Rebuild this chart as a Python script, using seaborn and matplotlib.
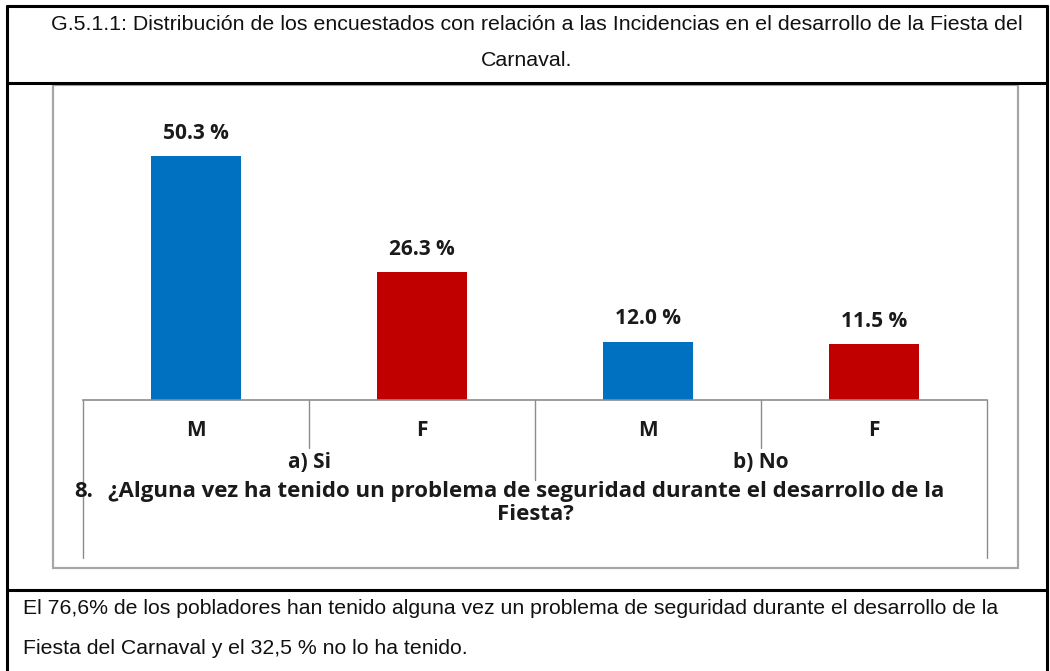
import numpy as np
import pandas as pd
import matplotlib
matplotlib.use("Agg")
import matplotlib.pyplot as plt
import matplotlib.transforms as mtransforms
from matplotlib.lines import Line2D
from matplotlib.patches import Rectangle
import seaborn as sns

# ---------------- data ----------------
groups = ["a) Si", "a) Si", "b) No", "b) No"]
sexes = ["M", "F", "M", "F"]
values = [50.3, 26.3, 12.0, 11.5]
bar_colors = ["#0070C0", "#C00000", "#0070C0", "#C00000"]

title_lines = ["G.5.1.1: Distribución de los encuestados con relación a las Incidencias en el desarrollo de la Fiesta del",
               "Carnaval."]
question_num = "8."
question_lines = ["¿Alguna vez ha tenido un problema de seguridad durante el desarrollo de la",
                  "Fiesta?"]
summary_lines = ["El 76,6% de los pobladores han tenido alguna vez un problema de seguridad durante el desarrollo de la",
                 "Fiesta del Carnaval y el 32,5 % no lo ha tenido."]

# ---------------- figure ----------------
W, H = 1050, 671
sns.set_theme(style="white")
doc_font = ["Liberation Sans", "DejaVu Sans"]
plt.rcParams['font.family'] = ['Liberation Sans', 'DejaVu Sans']
fig = plt.figure(figsize=(W / 100, H / 100), dpi=100)
fig.patch.set_facecolor("white")


def fx(px):
    return px / W


def fy(py):
    return 1 - py / H


BASE_Y = 400
AX_L, AX_R = 83, 987
PX_PER_UNIT = 4.85
YMAX = 60
ax = fig.add_axes([fx(AX_L), fy(BASE_Y), fx(AX_R) - fx(AX_L), YMAX * PX_PER_UNIT / H])

keys = [f"{s}|{g}" for s, g in zip(sexes, groups)]
df = pd.DataFrame({"key": keys, "sex": sexes, "group": groups, "value": values})
sns.barplot(data=df, x="key", y="value", hue="key", order=keys, hue_order=keys,
            palette=dict(zip(keys, bar_colors)), width=0.40, saturation=1,
            legend=False, ax=ax, linewidth=0)
ax.set_xlim(-0.5, len(keys) - 0.5)
ax.set_ylim(0, YMAX)
ax.set_xticks([])
ax.set_yticks([])
ax.set_xlabel("")
ax.set_ylabel("")
ax.set_facecolor("none")
for side in ["top", "left", "right"]:
    ax.spines[side].set_visible(False)
ax.spines["bottom"].set_color("#8C8C8C")
ax.spines["bottom"].set_linewidth(1.2)

label_font = ["Open Sans", "DejaVu Sans"]
txt_col = "#1a1a1a"
for p, v in zip(ax.patches, values):
    ax.annotate(f"{v:.1f} %", (p.get_x() + p.get_width() / 2, p.get_height()),
                xytext=(0, 23), textcoords="offset pixels", ha="center", va="center",
                fontsize=15, fontweight="bold", color=txt_col, family=label_font)

# category table under the axis
trans = mtransforms.blended_transform_factory(ax.transData, fig.transFigure)
line_col = "#8C8C8C"
for i, s in enumerate(sexes):
    ax.text(i, fy(431), s, transform=trans, ha="center", va="center", fontsize=15,
            fontweight="bold", color=txt_col, family=label_font, clip_on=False)
ug = list(dict.fromkeys(groups))
for g in ug:
    pos = [i for i, gg in enumerate(groups) if gg == g]
    ax.text(np.mean(pos), fy(462), g, transform=trans, ha="center", va="center", fontsize=15,
            fontweight="bold", color=txt_col, family=label_font, clip_on=False)

n = len(keys)
for b in np.arange(-0.5, n, 1.0):
    if b in (-0.5, n - 0.5):
        bottom = 558
    elif abs(b - 1.5) < 1e-9:
        bottom = 480
    else:
        bottom = 448
    ax.add_line(Line2D([b, b], [fy(BASE_Y), fy(bottom)], transform=trans, color=line_col,
                       lw=1.0, clip_on=False))

# question text
q1 = fig.text(fx(108), fy(497), question_lines[0], ha="left", va="baseline", fontsize=14,
              fontweight="bold", color=txt_col, family=label_font)
qn = fig.text(fx(74), fy(497), question_num, ha="left", va="baseline", fontsize=14,
              fontweight="bold", color=txt_col, family=label_font)
q2 = fig.text(fx(535), fy(520), question_lines[1], ha="center", va="baseline", fontsize=14,
              fontweight="bold", color=txt_col, family=label_font)

# chart frame
fig.add_artist(Rectangle((fx(53), fy(568)), fx(1018) - fx(53), (568 - 85) / H,
                         transform=fig.transFigure, fill=False, edgecolor="#A6A6A6", lw=1.6))

# document table borders
blk = dict(color="black", lw=2.2, transform=fig.transFigure)
fig.add_artist(Line2D([fx(7), fx(1047)], [fy(6), fy(6)], **blk))
fig.add_artist(Line2D([fx(7), fx(7)], [fy(6), fy(671)], **blk))
fig.add_artist(Line2D([fx(1047), fx(1047)], [fy(6), fy(671)], **blk))
fig.add_artist(Line2D([fx(7), fx(1047)], [fy(83), fy(83)], **blk))
fig.add_artist(Line2D([fx(7), fx(1047)], [fy(590), fy(590)], **blk))

# title and summary
dk = "#111111"
t1 = fig.text(fx(537), fy(25), title_lines[0], ha="center", va="center", fontsize=13, color=dk, family=doc_font)
t2 = fig.text(fx(527), fy(61), title_lines[1], ha="center", va="center", fontsize=13, color=dk, family=doc_font)
s1 = fig.text(fx(23), fy(609), summary_lines[0], ha="left", va="center", fontsize=13, color=dk, family=doc_font)
s2 = fig.text(fx(23), fy(648), summary_lines[1], ha="left", va="center", fontsize=13, color=dk, family=doc_font)

# fit text widths to layout
fig.canvas.draw()
r = fig.canvas.get_renderer()


def fit(t, target, others=(), max_fs=None):
    w = t.get_window_extent(r).width
    fs = t.get_fontsize() * target / w
    if max_fs is not None:
        fs = min(fs, max_fs)
    t.set_fontsize(fs)
    for o in others:
        o.set_fontsize(fs)


fit(t1, 970, [t2])
fit(s1, 977, [s2])
fit(q1, 897, [q2, qn], max_fs=16)

fig.savefig("out.png", dpi=100, facecolor="white")
